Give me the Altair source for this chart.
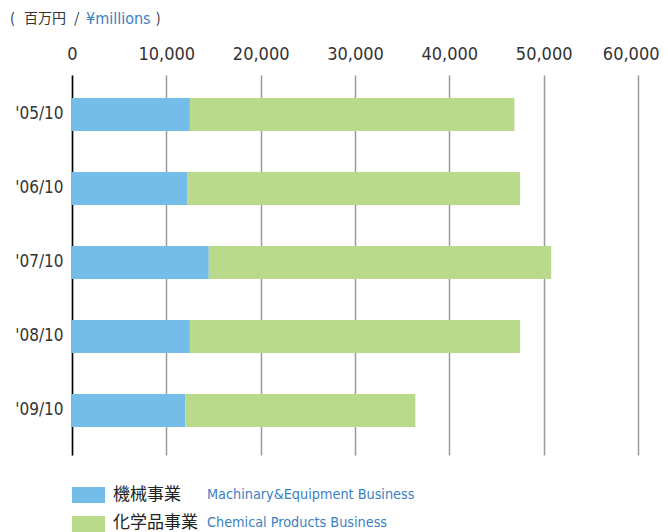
import altair as alt
import pandas as pd

years = ["'05/10", "'06/10", "'07/10", "'08/10", "'09/10"]
machinery = [12500, 12200, 14500, 12500, 12000]
chemical = [34400, 35300, 36300, 35000, 24400]
seg_jp = ["機械事業", "化学品事業"]
seg_en = ["Machinary&Equipment Business", "Chemical Products Business"]
colors = ["#74bde8", "#b9da8a"]
x_ticks = [0, 10000, 20000, 30000, 40000, 50000, 60000]

rows = []
for i, y in enumerate(years):
    rows.append({"year": y, "segment": seg_jp[0], "order": 0, "value": machinery[i]})
    rows.append({"year": y, "segment": seg_jp[1], "order": 1, "value": chemical[i]})
df = pd.DataFrame(rows)

NUM_FONT = "DejaVu Sans Condensed, Roboto, sans-serif"
JP_FONT = "Noto Sans CJK JP"

bars = alt.Chart(df).mark_bar().encode(
    x=alt.X("value:Q", stack="zero",
            scale=alt.Scale(domain=[0, 60000], nice=False),
            axis=alt.Axis(orient="top", values=x_ticks, format=",d", title=None,
                          grid=True, gridColor="#9a9a9a", gridWidth=1.5,
                          domain=False, ticks=False, labelFontSize=18,
                          labelColor="#333333", labelFont=NUM_FONT,
                          labelPadding=12, labelFlush=False, labelOverlap=False,
                          labelBound=False,
                          labelAlign=alt.condition("datum.value == 60000",
                                                   alt.value("right"), alt.value("center")),
                          labelOffset=alt.condition("datum.value == 60000",
                                                    alt.value(21), alt.value(0)))),
    y=alt.Y("year:N", sort=years,
            scale=alt.Scale(paddingInner=0.554, paddingOuter=0.345, align=0.45),
            axis=alt.Axis(title=None, domain=True, domainColor="#000000",
                          domainWidth=1.5, ticks=False, grid=False,
                          labelFontSize=17, labelColor="#333333",
                          labelFont=NUM_FONT, labelPadding=9)),
    color=alt.Color("segment:N", scale=alt.Scale(domain=seg_jp, range=colors), legend=None),
    order=alt.Order("order:Q"),
)

def txt(s, x, y, color, font, size, align="left"):
    return alt.Chart(pd.DataFrame({"t": [s]})).mark_text(
        align=align, baseline="middle", color=color, font=font, fontSize=size
    ).encode(text="t:N", x=alt.value(x), y=alt.value(y))

title_parts = (
    txt("(", -62, -56, "#333333", JP_FONT, 14)
    + txt("百万円", -48, -56, "#333333", JP_FONT, 14)
    + txt("/", 2, -56, "#333333", JP_FONT, 14)
    + txt("¥millions", 14, -56, "#3a7fc1", NUM_FONT, 16)
    + txt(")", 84, -56, "#333333", JP_FONT, 14)
)

def swatch(color, y):
    return alt.Chart(pd.DataFrame({"c": [color]})).mark_rect(color=color).encode(
        x=alt.value(0), x2=alt.value(33), y=alt.value(y), y2=alt.value(y + 16)
    )

legend = (
    swatch(colors[0], 412)
    + swatch(colors[1], 441)
    + txt(seg_jp[0], 41, 420, "#222222", JP_FONT, 17)
    + txt(seg_jp[1], 41, 448, "#222222", JP_FONT, 17)
    + txt(seg_en[0], 135, 420, "#3a7fc1", NUM_FONT, 14.3)
    + txt(seg_en[1], 135, 448, "#3a7fc1", NUM_FONT, 14.3)
)

chart = (bars + title_parts + legend).properties(
    width=566, height=380,
    padding={"left": 64, "top": 67, "right": 22, "bottom": 77},
    autosize=alt.AutoSizeParams(type="none"),
).configure_view(stroke=None)

chart.save("out.html", embed_options={"renderer": "svg", "actions": False})
